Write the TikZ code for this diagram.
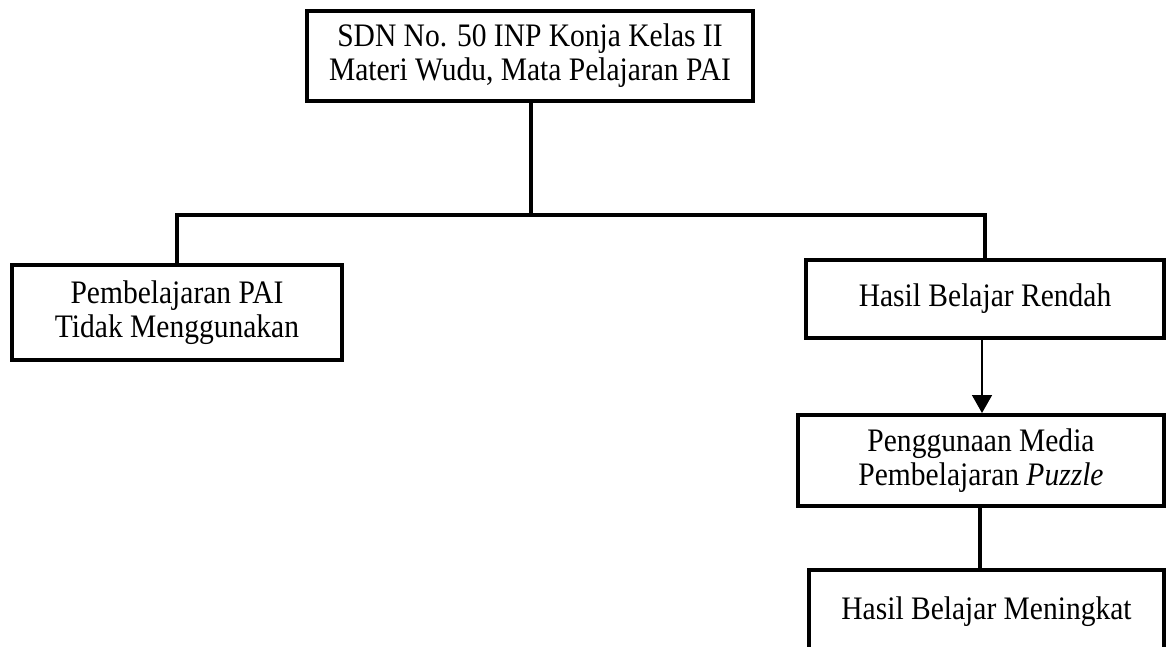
\documentclass[tikz,border=0pt]{standalone}
\usepackage{fontspec}
\setmainfont{Liberation Serif}
\newfontfamily\diagfont[FakeStretch=0.9]{Liberation Serif}
\usetikzlibrary{arrows.meta}

\tikzset{
  box/.style={draw, line width=4pt, inner sep=0pt, align=center,
    font=\diagfont\fontsize{32.8}{34}\selectfont},
  link/.style={line width=3.5pt},
  thinarrow/.style={line width=1.5pt, -{Triangle[width=20pt,length=18pt]}}
}

\begin{document}
\begin{tikzpicture}[x=1pt,y=-1pt]
\clip (0,0) rectangle (1174,646);
\fill[white] (0,0) rectangle (1174,646);
\node[box, minimum width=446pt, minimum height=90pt] (sekolah) at (530,56)
  {SDN No. 50 INP Konja Kelas II\\Materi Wudu, Mata Pelajaran PAI};
\node[box, minimum width=330pt, minimum height=95pt] (tanpa) at (177,312.5)
  {Pembelajaran PAI\\Tidak Menggunakan};
\node[box, minimum width=358pt, minimum height=78pt] (rendah) at (985,299)
  {Hasil Belajar Rendah};
\node[box, minimum width=366pt, minimum height=91pt] (media) at (981,460.5)
  {Penggunaan Media\\Pembelajaran \textit{Puzzle}};
\node[box, minimum width=355pt, minimum height=84pt] (naik) at (986.5,612)
  {Hasil Belajar Meningkat};
\coordinate (cabang) at (531,215);
\draw[link] (sekolah.south -| cabang) -- (cabang);
\draw[link] (tanpa.north) |- (cabang) -| (rendah.north);
\draw[thinarrow] ([xshift=-3pt]rendah.south) -- ([xshift=-3pt]rendah.south |- media.north);
\draw[link] ([xshift=-1pt]media.south) -- ([xshift=-1pt]media.south |- naik.north);
\end{tikzpicture}
\end{document}
